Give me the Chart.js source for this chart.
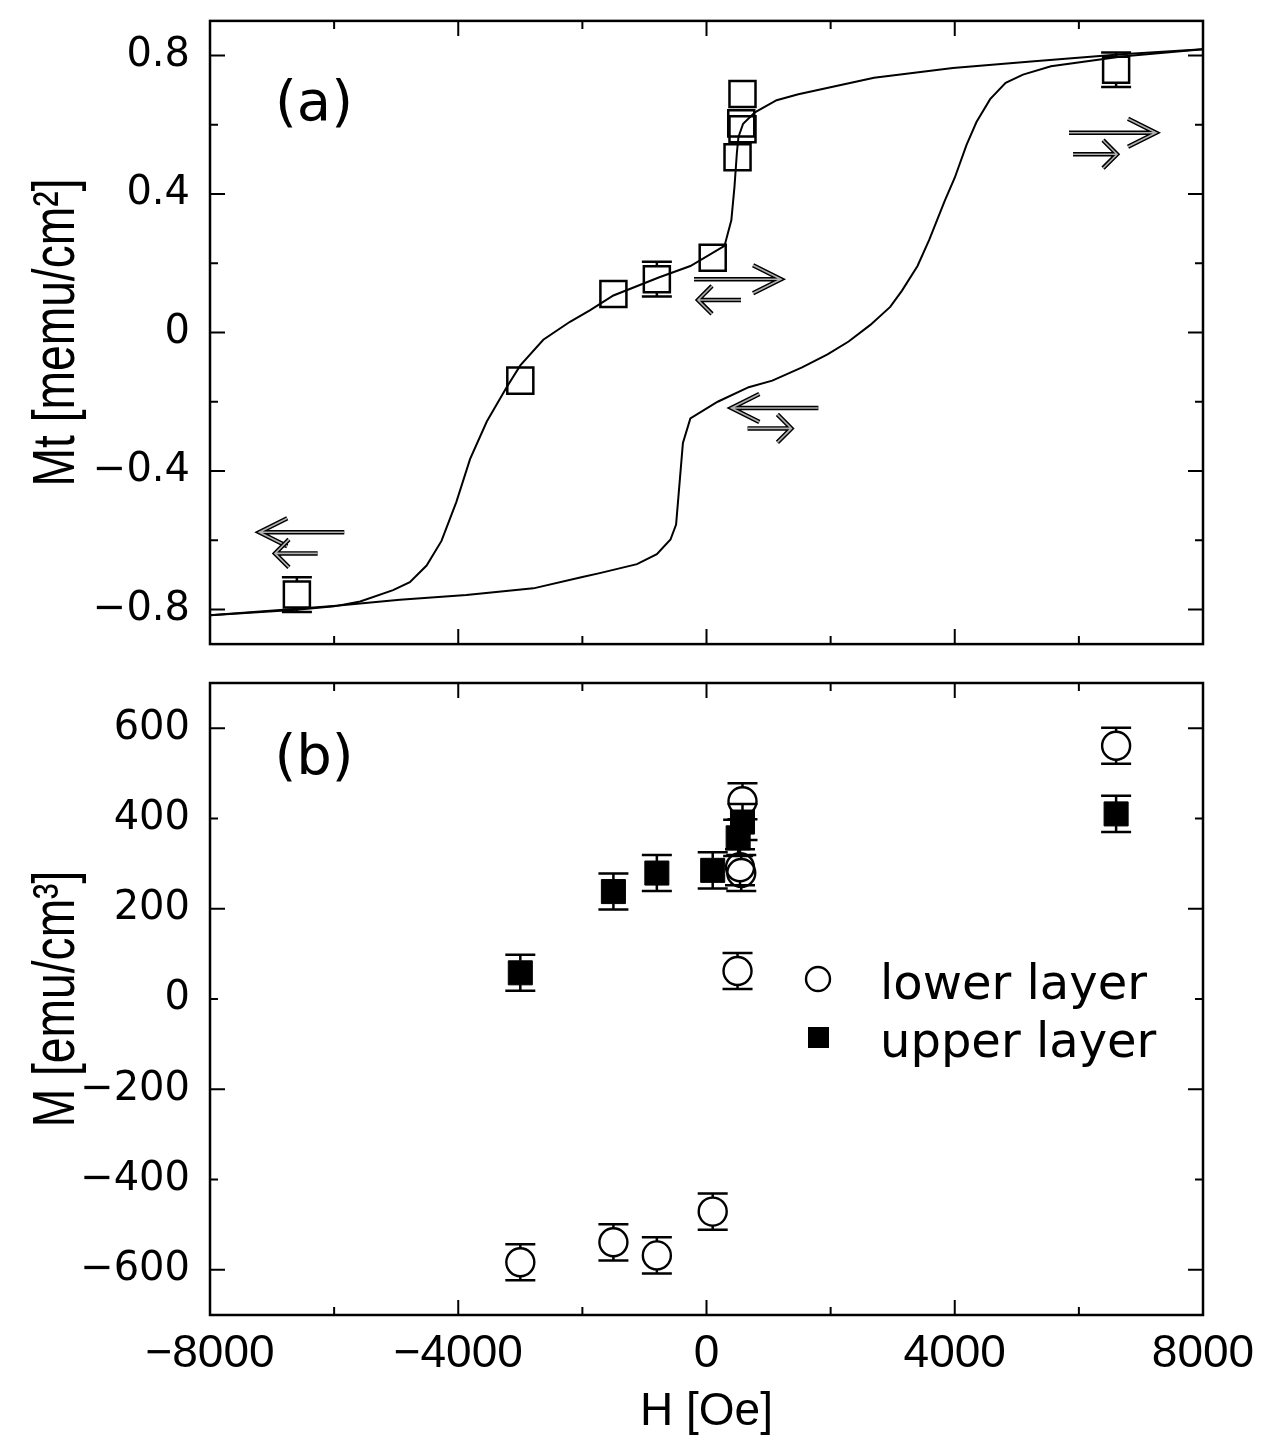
<!DOCTYPE html>
<html>
<head>
<meta charset="utf-8">
<script src="https://cdn.jsdelivr.net/npm/chart.js@4.4.0/dist/chart.umd.min.js"></script>
<style>
  body { margin: 0; background: #fff; }
  #wrap { position: relative; width: 1263px; height: 1444px; }
  canvas { position: absolute; left: 0; }
</style>
</head>
<body>
<div id="wrap">
  <canvas id="panelA" width="1263" height="665" style="top:0"></canvas>
  <canvas id="panelB" width="1263" height="779" style="top:665px"></canvas>
</div>
<script>
// ---- data: panel (a), hysteresis loop Mt vs H ----
var ascH = [-8000, -6600, -6000, -5580, -5050, -4780, -4510, -4270, -4030, -3810, -3540, -3220, -3000, -2630, -2200, -1880, -1500, -770, -260, 290, 400, 450, 490, 515, 590, 780, 1130, 1480, 2700, 3970, 5230, 6690, 8000];
var ascM = [-0.817, -0.801, -0.791, -0.777, -0.744, -0.721, -0.673, -0.602, -0.489, -0.366, -0.257, -0.158, -0.095, -0.021, 0.031, 0.064, 0.107, 0.159, 0.192, 0.250, 0.324, 0.419, 0.520, 0.565, 0.603, 0.636, 0.671, 0.688, 0.736, 0.764, 0.783, 0.804, 0.818];
var descH = [8000, 6690, 5550, 5100, 4820, 4570, 4350, 4190, 4000, 3840, 3590, 3400, 3150, 2960, 2640, 2290, 1950, 1540, 1060, 680, 180, -260, -380, -490, -580, -800, -1120, -1720, -2000, -2790, -3870, -4940, -6010, -8000];
var descM = [0.818, 0.797, 0.769, 0.745, 0.721, 0.674, 0.608, 0.542, 0.447, 0.381, 0.268, 0.192, 0.121, 0.074, 0.022, -0.026, -0.063, -0.101, -0.139, -0.158, -0.200, -0.248, -0.319, -0.555, -0.598, -0.640, -0.669, -0.695, -0.706, -0.739, -0.758, -0.772, -0.790, -0.817];
var sqH = [-6600, -3000, -1500, -800, 100, 500, 560, 580, 580, 6600];
var sqM = [-0.757, -0.139, 0.111, 0.154, 0.216, 0.506, 0.604, 0.587, 0.689, 0.759];
var sqErr = [0.05, 0, 0, 0.05, 0, 0, 0, 0, 0, 0.05];

// ---- data: panel (b), layer magnetisation ----
var lowH = [-3000, -1500, -800, 100, 500, 540, 560, 580, 6600];
var lowM = [-583, -539, -568, -471, 62, 292, 279, 438, 561];
var lowErr = [40, 40, 40, 40, 40, 40, 40, 40, 40];
var upH = [-3000, -1500, -800, 100, 510, 580, 6600];
var upM = [58, 238, 279, 285, 357, 392, 410];
var upErr = [40, 40, 40, 40, 40, 40, 40];

// ---- ticks ----
var xLabelTicks = [-8000, -4000, 0, 4000, 8000];
var xMinorTicks = [-6000, -2000, 2000, 6000];
var aLabelTicks = [-0.8, -0.4, 0, 0.4, 0.8];
var aMinorTicks = [-0.6, -0.2, 0.2, 0.6];
var bLabelTicks = [-600, -400, -200, 0, 200, 400, 600];
var bMajorTicks = [-600, -200, 200, 600];
var bMinorTicks = [-400, 0, 400];

// arrows in panel (a), data coordinates
var arrows = [
  { x1: 5841, x2: 7243, y: 0.577, dir: 1, head: 28 },
  { x1: 5906, x2: 6615, y: 0.515, dir: 1, head: 14 },
  { x1: -201, x2: 1201, y: 0.154, dir: 1, head: 28 },
  { x1: -137, x2: 556, y: 0.094, dir: -1, head: 14 },
  { x1: 401, x2: 1803, y: -0.218, dir: -1, head: 28 },
  { x1: 661, x2: 1368, y: -0.277, dir: 1, head: 14 },
  { x1: -7206, x2: -5836, y: -0.577, dir: -1, head: 28 },
  { x1: -6953, x2: -6265, y: -0.638, dir: -1, head: 14 }
];

function pts(xs, ys) {
  return xs.map(function (v, i) { return { x: v, y: ys[i] }; });
}
function fmt(v) {
  return v === 0 ? '0' : (v < 0 ? '\u2212' : '') + Math.abs(v);
}
function setTicks(list) {
  return function (s) { s.ticks = list.map(function (v) { return { value: v }; }); };
}
// fixed axis box, and no extra room for the end labels
function fixWidth(w) {
  return function (s) { s.width = w; s.paddingTop = 0; s.paddingBottom = 0; };
}
function fixHeight(h) {
  return function (s) { s.height = h; s.paddingLeft = 0; s.paddingRight = 0; };
}

var tickFont = { family: 'DejaVu Sans', size: 40 };

// frame with inside ticks on all four sides
function framePlugin(xMajor, xMinor, yMajor, yMinor) {
  return {
    id: 'frame',
    afterDatasetsDraw: function (chart) {
      var ctx = chart.ctx, a = chart.chartArea, x = chart.scales.x, y = chart.scales.y;
      ctx.save();
      ctx.strokeStyle = '#000';
      ctx.lineWidth = 2.5;
      ctx.strokeRect(a.left, a.top, a.right - a.left, a.bottom - a.top);
      ctx.lineWidth = 2;
      ctx.beginPath();
      function tick(vals, len, horiz) {
        vals.forEach(function (v) {
          if (horiz) {
            var p = x.getPixelForValue(v);
            ctx.moveTo(p, a.top); ctx.lineTo(p, a.top + len);
            ctx.moveTo(p, a.bottom); ctx.lineTo(p, a.bottom - len);
          } else {
            var q = y.getPixelForValue(v);
            ctx.moveTo(a.left, q); ctx.lineTo(a.left + len, q);
            ctx.moveTo(a.right, q); ctx.lineTo(a.right - len, q);
          }
        });
      }
      tick(xMajor, 15, true);
      tick(xMinor, 8, true);
      tick(yMajor, 15, false);
      tick(yMinor, 8, false);
      ctx.stroke();
      ctx.restore();
    }
  };
}

// error bars: stems from marker edge out to the caps
var errorBars = {
  id: 'errorBars',
  beforeDatasetsDraw: function (chart) {
    var ctx = chart.ctx, y = chart.scales.y;
    ctx.save();
    ctx.strokeStyle = '#000';
    ctx.lineWidth = 2.5;
    chart.data.datasets.forEach(function (ds, i) {
      if (!ds.errors) return;
      chart.getDatasetMeta(i).data.forEach(function (el, j) {
        var e = ds.errors[j];
        if (!e) return;
        var v = ds.data[j].y;
        var top = y.getPixelForValue(v + e), bot = y.getPixelForValue(v - e);
        var h = ds.markerHalf;
        ctx.beginPath();
        ctx.moveTo(el.x, top); ctx.lineTo(el.x, el.y - h);
        ctx.moveTo(el.x, el.y + h); ctx.lineTo(el.x, bot);
        ctx.moveTo(el.x - 15, top); ctx.lineTo(el.x + 15, top);
        ctx.moveTo(el.x - 15, bot); ctx.lineTo(el.x + 15, bot);
        ctx.stroke();
      });
    });
    ctx.restore();
  }
};

var arrowPlugin = {
  id: 'arrows',
  afterDatasetsDraw: function (chart) {
    var ctx = chart.ctx, x = chart.scales.x, y = chart.scales.y;
    ctx.save();
    ctx.lineJoin = 'miter';
    arrows.forEach(function (a) {
      var p1 = x.getPixelForValue(a.x1), p2 = x.getPixelForValue(a.x2), py = y.getPixelForValue(a.y);
      var tip = a.dir > 0 ? p2 : p1;
      var back = tip - a.dir * a.head;
      ctx.beginPath();
      ctx.moveTo(p1, py); ctx.lineTo(p2, py);
      ctx.moveTo(back, py - 14); ctx.lineTo(tip, py); ctx.lineTo(back, py + 14);
      ctx.strokeStyle = '#000'; ctx.lineWidth = 4.5; ctx.stroke();
      ctx.strokeStyle = '#b0b0b0'; ctx.lineWidth = 1.6; ctx.stroke();
    });
    ctx.restore();
  }
};

// condensed, rotated y-axis title
function yTitle(text) {
  return {
    id: 'yTitle',
    afterDraw: function (chart) {
      var ctx = chart.ctx, a = chart.chartArea;
      ctx.save();
      ctx.translate(57, (a.top + a.bottom) / 2);
      ctx.rotate(-Math.PI / 2);
      ctx.scale(0.77, 1);
      ctx.fillStyle = '#000';
      ctx.font = '60px "Liberation Sans"';
      ctx.textAlign = 'center';
      ctx.textBaseline = 'middle';
      ctx.fillText(text, 0, 0);
      ctx.restore();
    }
  };
}

function panelLabel(text, baseline) {
  return {
    id: 'panelLabel',
    afterDraw: function (chart) {
      var ctx = chart.ctx;
      ctx.save();
      ctx.fillStyle = '#000';
      ctx.font = '56px "DejaVu Sans"';
      ctx.textAlign = 'center';
      ctx.textBaseline = 'alphabetic';
      ctx.fillText(text, 314, baseline);
      ctx.restore();
    }
  };
}

var legendB = {
  id: 'legendB',
  afterDraw: function (chart) {
    var ctx = chart.ctx;
    ctx.save();
    ctx.strokeStyle = '#000';
    ctx.fillStyle = '#000';
    ctx.lineWidth = 2.4;
    ctx.beginPath();
    ctx.arc(818, 314, 12, 0, Math.PI * 2);
    ctx.stroke();
    ctx.fillRect(808, 362, 21, 21);
    ctx.font = '48px "DejaVu Sans"';
    ctx.textAlign = 'left';
    ctx.textBaseline = 'alphabetic';
    ctx.fillText('lower layer', 880, 334);
    ctx.fillText('upper layer', 880, 392);
    ctx.restore();
  }
};

// ---- panel (a) ----
new Chart(document.getElementById('panelA'), {
  type: 'scatter',
  data: {
    datasets: [
      { data: pts(ascH, ascM), showLine: true, borderColor: '#000', borderWidth: 2, pointRadius: 0, pointHoverRadius: 0 },
      { data: pts(descH, descM), showLine: true, borderColor: '#000', borderWidth: 2, pointRadius: 0, pointHoverRadius: 0 },
      { data: pts(sqH, sqM), errors: sqErr, markerHalf: 13, pointStyle: 'rect', pointRadius: 18.4, pointHoverRadius: 18.4,
        borderColor: '#000', borderWidth: 2.5, backgroundColor: 'rgba(0,0,0,0)' }
    ]
  },
  options: {
    responsive: false,
    animation: false,
    layout: { padding: { left: 0, top: 13, right: 60, bottom: 17 } },
    plugins: { legend: { display: false }, tooltip: { enabled: false } },
    scales: {
      x: { type: 'linear', min: -8000, max: 8000, display: false },
      y: {
        min: -0.9, max: 0.9,
        afterFit: fixWidth(210),
        afterBuildTicks: setTicks(aLabelTicks),
        grid: { display: false, drawTicks: false },
        border: { display: false },
        ticks: { padding: 20, font: tickFont, color: '#000', callback: fmt }
      }
    }
  },
  plugins: [errorBars, framePlugin(xLabelTicks, xMinorTicks, aLabelTicks, aMinorTicks), arrowPlugin,
            panelLabel('(a)', 120), yTitle('Mt [memu/cm\u00b2]')]
});

// ---- panel (b) ----
new Chart(document.getElementById('panelB'), {
  type: 'scatter',
  data: {
    datasets: [
      { label: 'lower layer', data: pts(lowH, lowM), errors: lowErr, markerHalf: 14, pointStyle: 'circle', pointRadius: 14, pointHoverRadius: 14,
        borderColor: '#000', borderWidth: 2.4, backgroundColor: 'rgba(0,0,0,0)' },
      { label: 'upper layer', data: pts(upH, upM), errors: upErr, markerHalf: 12, pointStyle: 'rect', pointRadius: 17, pointHoverRadius: 17,
        borderColor: '#000', borderWidth: 1, backgroundColor: '#000' }
    ]
  },
  options: {
    responsive: false,
    animation: false,
    layout: { padding: { left: 0, top: 18, right: 60, bottom: 0 } },
    plugins: { legend: { display: false }, tooltip: { enabled: false } },
    scales: {
      x: {
        type: 'linear', min: -8000, max: 8000,
        afterFit: fixHeight(129),
        afterBuildTicks: setTicks(xLabelTicks),
        grid: { display: false, drawTicks: false },
        border: { display: false },
        ticks: { padding: 12, autoSkip: false, maxRotation: 0, font: { family: 'Liberation Sans', size: 46 }, color: '#000', callback: fmt },
        title: { display: true, text: 'H [Oe]', font: { family: 'Liberation Sans', size: 46 }, color: '#000', padding: { top: 0, bottom: 4 } }
      },
      y: {
        min: -700, max: 700,
        afterFit: fixWidth(210),
        afterBuildTicks: setTicks(bLabelTicks),
        grid: { display: false, drawTicks: false },
        border: { display: false },
        ticks: { padding: 20, font: tickFont, color: '#000', callback: fmt }
      }
    }
  },
  plugins: [errorBars, framePlugin(xLabelTicks, xMinorTicks, bMajorTicks, bMinorTicks), panelLabel('(b)', 109), legendB,
            yTitle('M [emu/cm\u00b3]')]
});
</script>
</body>
</html>
